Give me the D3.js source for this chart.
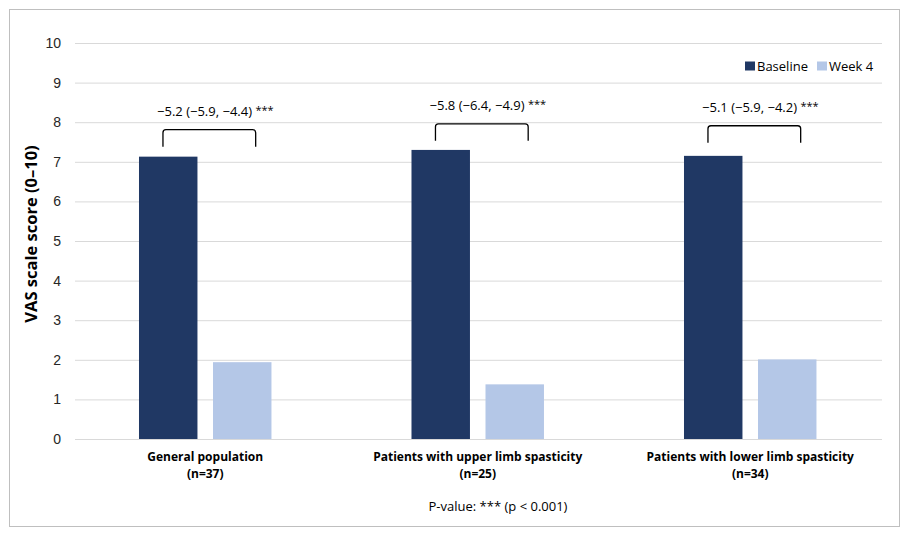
<!DOCTYPE html>
<html>
<head>
<meta charset="utf-8">
<script src="https://cdn.jsdelivr.net/npm/d3@7"></script>
<style>
  body { margin: 0; background: #fff; }
  svg { font-family: "Open Sans", sans-serif; }
</style>
</head>
<body>
<div id="chart"></div>
<script>
// chart values
const categories = ['General population', 'Patients with upper limb spasticity', 'Patients with lower limb spasticity'];
const sampleSizes = ['(n=37)', '(n=25)', '(n=34)'];
const seriesNames = ['Baseline', 'Week 4'];
const baseline = [7.13, 7.30, 7.15];
const week4 = [1.94, 1.38, 2.01];
const diffLabels = ['\u22125.2 (\u22125.9, \u22124.4)', '\u22125.8 (\u22126.4, \u22124.9)', '\u22125.1 (\u22125.9, \u22124.2)'];
const bracketTop = [7.81, 7.96, 7.91];
const yTicks = [0, 1, 2, 3, 4, 5, 6, 7, 8, 9, 10];
const colors = ['#203864', '#b4c7e7'];

const width = 908, height = 536;
const margin = {top: 43, right: 26, bottom: 97, left: 75};
const plotRight = width - margin.right;

const svg = d3.select('#chart').append('svg')
    .attr('width', width)
    .attr('height', height);

svg.append('rect')
    .attr('x', 9.5).attr('y', 9.5)
    .attr('width', 890).attr('height', 517)
    .attr('fill', '#fff')
    .attr('stroke', '#bfbfbf');

// categories sit on a slightly wider span than the gridlines
const x = d3.scaleBand()
    .domain(categories)
    .range([margin.left, plotRight + 10.5]);

const xInner = d3.scaleBand()
    .domain(seriesNames)
    .range([0, x.bandwidth()])
    .paddingInner(0.21)
    .paddingOuter(0.946)
    .align(0.457);

const y = d3.scaleLinear()
    .domain([0, 10])
    .range([height - margin.bottom, margin.top]);

// grid
const grid = svg.append('g')
    .attr('transform', `translate(${margin.left},0)`)
    .call(d3.axisLeft(y).tickValues(yTicks).tickSize(-(plotRight - margin.left)).tickFormat(''));
grid.select('.domain').remove();
grid.selectAll('line').attr('stroke', '#d9d9d9');

// y tick labels
const yAxis = svg.append('g')
    .attr('transform', `translate(${margin.left - 14},0)`)
    .call(d3.axisLeft(y).tickValues(yTicks).tickSize(0).tickPadding(0));
yAxis.select('.domain').remove();
yAxis.selectAll('text')
    .attr('font-size', 14)
    .attr('fill', '#262626');

svg.append('text')
    .attr('transform', `translate(37,${(y(0) + y(10)) / 2 - 7}) rotate(-90)`)
    .attr('text-anchor', 'middle')
    .attr('font-size', 16.5)
    .attr('font-weight', 'bold')
    .attr('fill', '#000')
    .text('VAS scale score (0\u201310)');

// bars
const groups = svg.append('g').selectAll('g')
    .data(categories)
    .join('g')
    .attr('transform', d => `translate(${x(d)},0)`);

groups.selectAll('rect')
    .data((d, i) => [baseline[i], week4[i]].map((v, j) => ({key: seriesNames[j], value: v, j})))
    .join('rect')
    .attr('x', d => xInner(d.key))
    .attr('width', xInner.bandwidth())
    .attr('y', d => y(d.value))
    .attr('height', d => y(0) - y(d.value))
    .attr('fill', d => colors[d.j]);

// brackets and difference labels
groups.each(function(d, i) {
    const g = d3.select(this);
    const x0 = xInner(seriesNames[0]) + xInner.bandwidth() * 0.41;
    const x1 = xInner(seriesNames[1]) + xInner.bandwidth() * 0.73;
    const yt = y(bracketTop[i]);
    const r = 3;
    const path = d3.path();
    path.moveTo(x0, yt + 17);
    path.lineTo(x0, yt + r);
    path.quadraticCurveTo(x0, yt, x0 + r, yt);
    path.lineTo(x1 - r, yt);
    path.quadraticCurveTo(x1, yt, x1, yt + r);
    path.lineTo(x1, yt + 17);
    g.append('path')
        .attr('d', path.toString())
        .attr('fill', 'none')
        .attr('stroke', '#000')
        .attr('stroke-width', 1.3);

    const t = g.append('text')
        .attr('x', (x0 + x1) / 2 + 6)
        .attr('y', yt - 14)
        .attr('text-anchor', 'middle')
        .attr('font-size', 13)
        .attr('fill', '#000');
    t.append('tspan').text(diffLabels[i] + ' ');
    t.append('tspan').attr('font-size', 11).attr('dy', -2).text('***');
});

// category labels
const labelX = d => x(d) + xInner(seriesNames[0]) + (xInner.step() + xInner.bandwidth()) / 2;
const xLabels = svg.append('g').selectAll('text')
    .data(categories)
    .join('text')
    .attr('x', labelX)
    .attr('y', 461)
    .attr('text-anchor', 'middle')
    .attr('font-size', 12)
    .attr('font-weight', 'bold')
    .attr('fill', '#000');
xLabels.append('tspan').text(d => d);
xLabels.append('tspan')
    .attr('x', labelX)
    .attr('dy', 17)
    .text((d, i) => sampleSizes[i]);

// legend
const legend = svg.append('g')
    .attr('transform', 'translate(745,66)');
const legendX = [0, 72];
seriesNames.forEach((s, i) => {
    legend.append('rect')
        .attr('x', legendX[i]).attr('y', -4.5)
        .attr('width', 10).attr('height', 9)
        .attr('fill', colors[i]);
    legend.append('text')
        .attr('x', legendX[i] + 12).attr('y', 5)
        .attr('font-size', 13)
        .attr('fill', '#000')
        .text(s);
});

svg.append('text')
    .attr('x', 498)
    .attr('y', 511)
    .attr('text-anchor', 'middle')
    .attr('font-size', 13)
    .attr('fill', '#000')
    .text('P-value: *** (p < 0.001)');
</script>
</body>
</html>
